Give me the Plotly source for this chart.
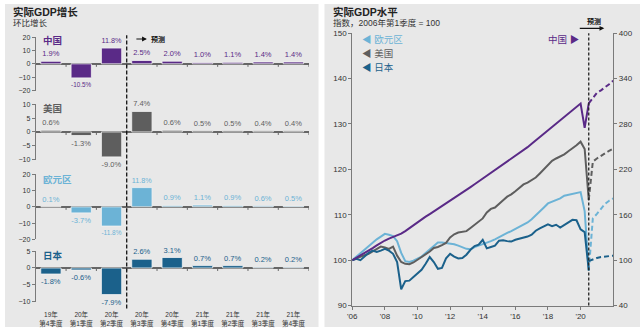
import plotly.graph_objects as go
import numpy as np

# ---------------- data ----------------
quarters = ["19年<br>第4季度", "20年<br>第1季度", "20年<br>第2季度", "20年<br>第3季度",
            "20年<br>第4季度", "21年<br>第1季度", "21年<br>第2季度", "21年<br>第3季度",
            "21年<br>第4季度"]
china_growth = [1.9, -10.5, 11.8, 2.5, 2.0, 1.0, 1.1, 1.4, 1.4]
us_growth = [0.6, -1.3, -9.0, 7.4, 0.6, 0.5, 0.5, 0.4, 0.4]
eu_growth = [0.1, -3.7, -11.8, 11.8, 0.9, 1.1, 0.9, 0.6, 0.5]
japan_growth = [-1.8, -0.6, -7.9, 2.6, 3.1, 0.7, 0.7, 0.2, 0.2]

# GDP level index (2006Q1 = 100), quarterly from 2006 to mid-2020
us_level = [100.0, 100.4, 100.7, 101.1, 101.4, 101.9, 102.5, 103.0, 102.8, 102.5, 103.0, 101.0,
            99.6, 99.2, 99.1, 99.5, 100.1, 100.7, 101.3, 101.9, 102.7, 102.9, 103.3, 103.8,
            105.0, 105.7, 106.1, 106.2, 106.4, 107.1, 107.8, 108.6, 109.2, 110.5, 111.3, 111.6,
            112.3, 113.2, 114.0, 114.5, 115.2, 116.0, 116.7, 117.1, 117.6, 118.2, 119.1, 120.1,
            121.0, 121.9, 122.4, 122.9, 123.3, 124.0, 124.6, 125.3, 126.1, 124.5, 113.3]
eu_level = [100.0, 100.8, 101.6, 102.4, 103.2, 104.0, 104.6, 105.2, 105.8, 105.6, 105.3, 104.2,
            101.6, 99.8, 99.6, 99.9, 100.4, 100.8, 101.6, 102.3, 103.1, 103.9, 103.9, 103.8,
            103.7, 103.5, 103.2, 102.9, 102.5, 102.4, 102.9, 103.2, 103.5, 103.8, 104.2, 104.6,
            105.1, 105.6, 106.0, 106.4, 106.9, 107.4, 107.8, 108.3, 109.0, 109.8, 110.7, 111.6,
            112.5, 112.9, 113.3, 113.6, 114.2, 114.4, 114.6, 114.8, 115.0, 110.8, 97.7]
japan_level = [100.0, 100.3, 100.0, 100.9, 101.6, 102.1, 101.8, 102.1, 102.5, 102.1, 101.4, 99.6,
               93.6, 95.4, 95.5, 96.3, 97.0, 97.9, 99.2, 100.7, 99.6, 98.1, 98.3, 100.4,
               101.4, 100.8, 100.4, 100.5, 101.2, 102.3, 103.1, 103.4, 104.5, 102.6, 102.9, 103.2,
               104.3, 104.4, 104.2, 104.1, 104.5, 104.7, 104.9, 105.2, 105.6, 106.5, 107.0, 107.5,
               107.9, 107.5, 107.8, 107.2, 107.8, 108.4, 108.9, 108.8, 106.8, 106.2, 97.8]
china_level = [100.0, 103.0, 106.5, 110.0, 113.0, 116.0, 119.5, 123.0, 126.0, 128.5, 130.5, 132.5,
               135.0, 138.5, 142.5, 146.5, 150.0, 154.0, 157.5, 161.0, 164.5, 168.0, 171.5, 175.0,
               178.0, 181.7, 185.4, 189.2, 192.9, 196.6, 200.3, 204.1, 207.8, 211.5, 215.2, 219.0,
               222.7, 226.4, 230.1, 233.8, 237.5, 241.3, 245.0, 249.4, 253.9, 258.3, 262.7, 267.1,
               271.6, 276.0, 280.4, 284.9, 289.3, 293.7, 298.1, 302.6, 307.0, 274.8, 307.2]
# forecasts (from mid-2020 to end of 2021)
us_fc = [113.3, 121.7, 122.4, 123.0, 123.6, 124.1, 124.6]
eu_fc = [97.7, 109.2, 110.2, 111.4, 112.4, 113.1, 113.6]
japan_fc = [99.8, 100.2, 100.5, 100.7, 100.8, 100.9, 101.0]
china_fc = [307.2, 314.9, 321.2, 324.4, 328.0, 332.6, 337.2]

year_ticks = [2006, 2008, 2010, 2012, 2014, 2016, 2018, 2020]
year_labels = ["'06", "'08", "'10", "'12", "'14", "'16", "'18", "'20"]

# ---------------- style ----------------
W, H = 640, 332
PURPLE = "#5a2a87"
GRAY = "#5e5e5e"
LBLUE = "#6cb3d6"
DBLUE = "#1b618b"
BG = "#e8e8e8"
AX = "#7a7a7a"
TXT = "#333333"
FONT = "Liberation Sans, Arial, Noto Sans CJK SC, sans-serif"


def px(x):
    return x / W


def py(y):
    return 1 - y / H


t_act = 2006 + 0.25 * np.arange(len(us_level))
t_fc = t_act[-1] + 0.25 * np.arange(len(us_fc))

fig = go.Figure()

# ---------------- left: bar panels ----------------
panels = [
    ("中国", china_growth, PURPLE, (34, 89), [-20, 20], [-20, -10, 0, 10, 20], 38),
    ("美国", us_growth, GRAY, (103, 160), [-10, 10], [-10, -5, 0, 5, 10], 107),
    ("欧元区", eu_growth, LBLUE, (175, 242), [-20, 20], [-20, -10, 0, 10, 20], 180),
    ("日本", japan_growth, DBLUE, (254, 306), [-10, 5], [-10, -5, 0, 5], 258),
]
xdom = [px(31), px(306)]
for i, (name, vals, col, (ytop, ybot), rng, tv, ylab) in enumerate(panels):
    k = "" if i == 0 else str(i + 1)
    fig.add_trace(go.Bar(
        x=quarters, y=vals, xaxis="x" + k, yaxis="y" + k,
        marker=dict(color=col, line=dict(color="#f4f4f4", width=0.8)),
        text=[f"{v:.1f}%" for v in vals], textposition="outside",
        textfont=dict(color=col, size=7.5, family=FONT),
        cliponaxis=False, showlegend=False, hoverinfo="skip",
    ))
    last = i == 3
    fig.layout["xaxis" + k] = dict(
        domain=xdom, anchor="y" + k, type="category", range=[-0.5, 8.5],
        showticklabels=last, showline=False, ticks="", showgrid=False,
        ticklabelstandoff=8,
        tickfont=dict(size=6.5, color=TXT, family=FONT),
    )
    fig.layout["yaxis" + k] = dict(
        domain=[py(ybot), py(ytop)], anchor="x" + k, range=rng, tickvals=tv,
        ticksuffix="%", showgrid=False, showline=True, linecolor=AX, linewidth=1,
        ticks="outside", ticklen=3, tickcolor=AX,
        zeroline=True, zerolinecolor="#666666", zerolinewidth=1.5,
        tickfont=dict(size=7, color=TXT, family=FONT),
    )
    fig.add_annotation(x=px(36), y=py(ylab), xref="paper", yref="paper", text=f"<b>{name}</b>",
                       showarrow=False, xanchor="left", yanchor="middle",
                       font=dict(size=9.5, color=col, family=FONT))
    for b in range(9):
        fig.add_shape(type="line", xref="x" + k, yref="y" + k, x0=b + 0.5, x1=b + 0.5,
                      ysizemode="pixel", yanchor=0, y0=0, y1=-3,
                      line=dict(color="#666666", width=1))

# forecast divider left
fig.add_shape(type="line", xref="x4", yref="paper", x0=2.5, x1=2.5, y0=py(313), y1=py(32),
              line=dict(color="#111111", width=1.3, dash="4px,2px"))
fig.add_annotation(x=px(143), y=py(36), ax=-12, ay=0, xref="paper", yref="paper",
                   axref="pixel", ayref="pixel", text="", showarrow=True, arrowhead=2,
                   arrowsize=0.8, arrowwidth=1.2, arrowcolor="#111111")
fig.add_annotation(x=px(145), y=py(36), xref="paper", yref="paper", text="<b>预测</b>",
                   showarrow=False, xanchor="left", yanchor="middle",
                   font=dict(size=7, color="#111111", family=FONT))

# ---------------- right: level lines ----------------
lines = [(eu_level, eu_fc, LBLUE), (us_level, us_fc, GRAY), (japan_level, japan_fc, DBLUE)]
for lvl, fc, col in lines:
    fig.add_trace(go.Scatter(x=t_act, y=lvl, xaxis="x5", yaxis="y5", mode="lines",
                             line=dict(color=col, width=2), showlegend=False, hoverinfo="skip"))
    fig.add_trace(go.Scatter(x=t_fc, y=fc, xaxis="x5", yaxis="y5", mode="lines",
                             line=dict(color=col, width=2, dash="5px,3px"), showlegend=False,
                             hoverinfo="skip"))
fig.add_trace(go.Scatter(x=t_act, y=china_level, xaxis="x5", yaxis="y6", mode="lines",
                         line=dict(color=PURPLE, width=2), showlegend=False, hoverinfo="skip"))
fig.add_trace(go.Scatter(x=t_fc, y=china_fc, xaxis="x5", yaxis="y6", mode="lines",
                         line=dict(color=PURPLE, width=2, dash="5px,3px"), showlegend=False,
                         hoverinfo="skip"))

rdom_y = [py(310), py(30)]
fig.layout.xaxis5 = dict(domain=[px(350), px(613)], anchor="y5", range=[2006, 2022],
                         tickvals=year_ticks, ticktext=year_labels, showgrid=False,
                         showline=True, linecolor=AX, ticks="outside", ticklen=3, tickcolor=AX,
                         zeroline=False, tickfont=dict(size=8, color=TXT, family=FONT))
fig.layout.yaxis5 = dict(domain=rdom_y, anchor="x5", range=[90, 150],
                         tickvals=[90, 100, 110, 120, 130, 140, 150], showgrid=False,
                         showline=True, linecolor=AX, ticks="outside", ticklen=3, tickcolor=AX,
                         zeroline=False, tickfont=dict(size=8, color=TXT, family=FONT))
fig.layout.yaxis6 = dict(domain=rdom_y, anchor="x5", overlaying="y5", side="right",
                         range=[40, 400], tickvals=[40, 100, 160, 220, 280, 340, 400],
                         showgrid=False, showline=True, linecolor=AX, ticks="outside",
                         ticklen=3, tickcolor=AX, zeroline=False,
                         tickfont=dict(size=8, color=TXT, family=FONT))

fig.add_shape(type="line", xref="x5", yref="paper", x0=t_act[-1], x1=t_act[-1],
              y0=py(310), y1=py(30), line=dict(color="#222222", width=1.3, dash="3px,2px"))
fig.add_annotation(x=px(604), y=py(25), ax=-26, ay=0, xref="paper", yref="paper",
                   axref="pixel", ayref="pixel", text="", showarrow=True, arrowhead=2,
                   arrowsize=0.8, arrowwidth=1.2, arrowcolor="#111111")
fig.add_annotation(x=px(594), y=py(18), xref="paper", yref="paper", text="<b>预测</b>",
                   showarrow=False, xanchor="center", yanchor="middle",
                   font=dict(size=7, color="#111111", family=FONT))

legend_items = [("◀ 欧元区", LBLUE, 37), ("◀ 美国", GRAY, 51), ("◀ 日本", DBLUE, 65)]
for txt, col, yy in legend_items:
    fig.add_annotation(x=px(358), y=py(yy), xref="paper", yref="paper", text=txt,
                       showarrow=False, xanchor="left", yanchor="middle",
                       font=dict(size=9.5, color=col, family=FONT))
fig.add_annotation(x=px(581), y=py(37), xref="paper", yref="paper", text="中国 ▶",
                   showarrow=False, xanchor="right", yanchor="middle",
                   font=dict(size=9.5, color=PURPLE, family=FONT))

# ---------------- titles ----------------
for x0, t1, t2 in [(6, "实际GDP增长", "环比增长"), (329, "实际GDP水平", "指数，2006年第1季度 = 100")]:
    fig.add_annotation(x=px(x0), y=py(8), xref="paper", yref="paper", text=f"<b>{t1}</b>",
                       showarrow=False, xanchor="left", yanchor="middle",
                       font=dict(size=10.5, color="#222222", family=FONT))
    fig.add_annotation(x=px(x0), y=py(20), xref="paper", yref="paper", text=t2,
                       showarrow=False, xanchor="left", yanchor="middle",
                       font=dict(size=8.5, color="#333333", family=FONT))

# panel backgrounds
fig.add_shape(type="rect", xref="paper", yref="paper", x0=0, x1=px(316), y0=0, y1=1,
              fillcolor=BG, line=dict(width=0), layer="below")
fig.add_shape(type="rect", xref="paper", yref="paper", x0=px(322), x1=1, y0=0, y1=1,
              fillcolor=BG, line=dict(width=0), layer="below")

fig.update_layout(width=W, height=H, margin=dict(l=0, r=0, t=0, b=0),
                  paper_bgcolor="white", plot_bgcolor="rgba(0,0,0,0)",
                  bargap=0.33, font=dict(family=FONT, color=TXT))

fig.write_html("out.html")
